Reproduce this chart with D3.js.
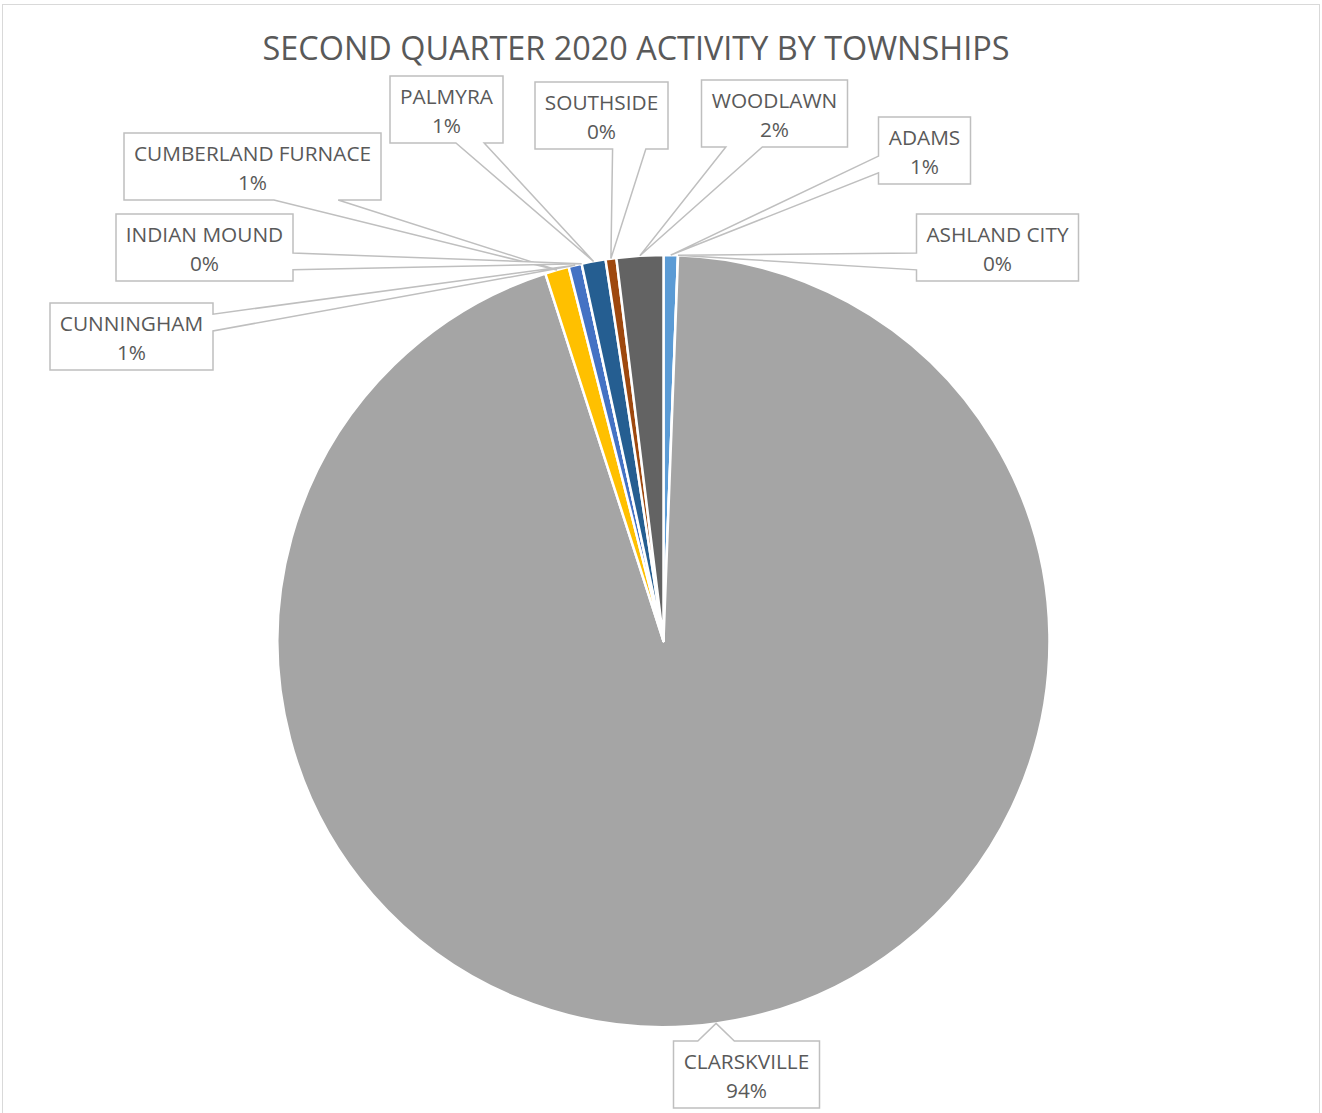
<!DOCTYPE html>
<html>
<head>
<meta charset="utf-8">
<script src="https://cdn.jsdelivr.net/npm/d3@7"></script>
<style>
  html, body { margin: 0; padding: 0; background: #ffffff; }
  svg { display: block; }
</style>
</head>
<body>
<svg id="chart" width="1322" height="1113"></svg>
<script>
// ---- data ----
const title = "SECOND QUARTER 2020 ACTIVITY BY TOWNSHIPS";
const categories = ["ADAMS", "ASHLAND CITY", "CLARSKVILLE", "CUMBERLAND FURNACE",
                    "CUNNINGHAM", "INDIAN MOUND", "PALMYRA", "SOUTHSIDE", "WOODLAWN"];
const values = [0.6, 0.0, 94.45, 1.0, 0.55, 0.0, 1.0, 0.45, 1.95];
const colors = ["#5B9BD5", "#ED7D31", "#A5A5A5", "#FFC000", "#4472C4",
                "#70AD47", "#255E91", "#9E480E", "#636363"];

// ---- layout (label box centres, not data) ----
const labelCenters = [
  [924.5, 150.5],   // ADAMS
  [997.5, 247.5],   // ASHLAND CITY
  [746.5, 1074.5],  // CLARSKVILLE
  [252.5, 166.5],   // CUMBERLAND FURNACE
  [131.5, 336.5],   // CUNNINGHAM
  [204.5, 247.5],   // INDIAN MOUND
  [446.5, 109.5],   // PALMYRA
  [601.5, 115.5],   // SOUTHSIDE
  [774.5, 113.5]    // WOODLAWN
];

const W = 1322, H = 1113;
const cx = 663.5, cy = 641, R = 386;
const FONT = "'Open Sans', 'Liberation Sans', sans-serif";
const textColor = "#595959";
const lineColor = "#BFBFBF";

const svg = d3.select("#chart");

// chart area border
svg.append("rect")
  .attr("x", 2.5).attr("y", 4.5)
  .attr("width", 1317).attr("height", 1120)
  .attr("fill", "#fff").attr("stroke", "#D9D9D9").attr("stroke-width", 1);

// title
svg.append("text")
  .attr("x", 636).attr("y", 60)
  .attr("text-anchor", "middle")
  .attr("font-family", FONT).attr("font-size", 32.4)
  .attr("fill", textColor)
  .text(title);

const data = categories.map((c, i) => ({ name: c, value: values[i], color: colors[i] }));
const total = d3.sum(values);
const pct = d3.format(".0%");

const pie = d3.pie().sort(null).value(d => d.value);
const arcs = pie(data);
const arc = d3.arc().innerRadius(0).outerRadius(R);

const g = svg.append("g").attr("transform", `translate(${cx},${cy})`);
g.selectAll("path.slice")
  .data(arcs)
  .join("path")
  .attr("class", "slice")
  .attr("d", arc)
  .attr("fill", d => d.data.color)
  .attr("stroke", "#fff")
  .attr("stroke-width", 2.5)
  .attr("stroke-linejoin", "round");

// labels as wedge-rect callouts
const labelG = svg.append("g");
const fs = 20.8;
arcs.forEach((a, i) => {
  const mid = (a.startAngle + a.endAngle) / 2;
  const px = cx + R * Math.sin(mid);
  const py = cy - R * Math.cos(mid);
  const [lx, ly] = labelCenters[i];

  const grp = labelG.append("g");
  const t1 = grp.append("text")
    .attr("font-family", FONT).attr("font-size", fs)
    .attr("fill", textColor).attr("text-anchor", "middle")
    .text(a.data.name);
  const t2 = grp.append("text")
    .attr("font-family", FONT).attr("font-size", fs)
    .attr("fill", textColor).attr("text-anchor", "middle")
    .text(pct(a.data.value / total));
  const tw = Math.max(t1.node().getComputedTextLength(), t2.node().getComputedTextLength());
  const w = Math.round(tw + 20), h = 67;
  const x = lx - w / 2, y = ly - h / 2;
  t1.attr("x", lx).attr("y", y + 28);
  t2.attr("x", lx).attr("y", y + 57);

  // wedgeRectCallout geometry
  const dx = px - lx, dy = py - ly;
  const dq = dx * h / w;
  let pts;
  if (Math.abs(dy) > Math.abs(dq)) {
    const b1 = x + w * (dx > 0 ? 7 : 2) / 12;
    const b2 = x + w * (dx > 0 ? 10 : 5) / 12;
    if (dy < 0) {
      pts = [[x, y], [b1, y], [px, py], [b2, y], [x + w, y], [x + w, y + h], [x, y + h]];
    } else {
      pts = [[x, y], [x + w, y], [x + w, y + h], [b2, y + h], [px, py], [b1, y + h], [x, y + h]];
    }
  } else {
    const b1 = y + h * (dy > 0 ? 7 : 2) / 12;
    const b2 = y + h * (dy > 0 ? 10 : 5) / 12;
    if (dx < 0) {
      pts = [[x, y], [x + w, y], [x + w, y + h], [x, y + h], [x, b2], [px, py], [x, b1]];
    } else {
      pts = [[x, y], [x + w, y], [x + w, b1], [px, py], [x + w, b2], [x + w, y + h], [x, y + h]];
    }
  }
  grp.insert("path", "text")
    .attr("d", d3.line()(pts) + "Z")
    .attr("fill", "#fff")
    .attr("stroke", lineColor)
    .attr("stroke-width", 1.5)
    .attr("stroke-linejoin", "miter");
});
</script>
</body>
</html>
